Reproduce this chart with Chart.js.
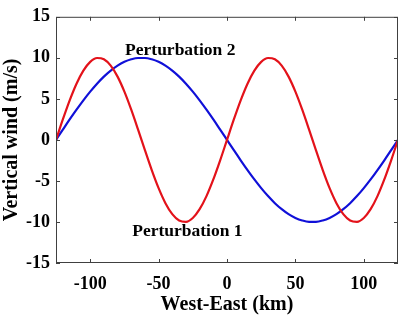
<!DOCTYPE html>
<html>
<head>
<meta charset="utf-8">
<script src="https://cdn.jsdelivr.net/npm/chart.js@4/dist/chart.umd.min.js"></script>
<style>
  body { margin: 0; background: #fff; }
  #wrap { width: 400px; height: 317px; }
</style>
</head>
<body>
<div id="wrap"><canvas id="grafico"></canvas></div>
<script>
// Posiciones oeste-este (km)
const distancias = [-125, -120, -115, -110, -105, -100, -95, -90, -85, -80, -75, -70, -65, -60, -55, -50, -45, -40, -35, -30, -25, -20, -15, -10, -5,
  0, 5, 10, 15, 20, 25, 30, 35, 40, 45, 50, 55, 60, 65, 70, 75, 80, 85, 90, 95, 100, 105, 110, 115, 120, 125];

// Perturbacion 1 (rojo)
const perturbacion1 = [0, 2.49, 4.82, 6.85, 8.44, 9.51, 9.98, 9.82, 9.05, 7.71, 5.88, 3.68, 1.25, -1.25, -3.68, -5.88, -7.71, -9.05, -9.82, -9.98, -9.51, -8.44, -6.85, -4.82, -2.49,
  0, 2.49, 4.82, 6.85, 8.44, 9.51, 9.98, 9.82, 9.05, 7.71, 5.88, 3.68, 1.25, -1.25, -3.68, -5.88, -7.71, -9.05, -9.82, -9.98, -9.51, -8.44, -6.85, -4.82, -2.49, 0];

// Perturbacion 2 (azul)
const perturbacion2 = [0, 1.25, 2.49, 3.68, 4.82, 5.88, 6.85, 7.71, 8.44, 9.05, 9.51, 9.82, 9.98, 9.98, 9.82, 9.51, 9.05, 8.44, 7.71, 6.85, 5.88, 4.82, 3.68, 2.49, 1.25,
  0, -1.25, -2.49, -3.68, -4.82, -5.88, -6.85, -7.71, -8.44, -9.05, -9.51, -9.82, -9.98, -9.98, -9.82, -9.51, -9.05, -8.44, -7.71, -6.85, -5.88, -4.82, -3.68, -2.49, -1.25, 0];

// Marcas de los ejes
const marcasX = [-100, -50, 0, 50, 100];
const marcasY = [-15, -10, -5, 0, 5, 10, 15];

// Etiquetas dentro del grafico
const etiquetas = ["Perturbation 2", "Perturbation 1"];
const etiquetasX = [-74.5, -69.3];
const etiquetasY = [10.9, -11.2];

const fuente = "'Liberation Serif', 'Times New Roman', serif";

// Caja con marcas hacia adentro y textos
const cajaPlugin = {
  id: "caja",
  afterDraw(chart) {
    const ctx = chart.ctx;
    const a = chart.chartArea;
    const sx = chart.scales.x;
    const sy = chart.scales.y;
    ctx.save();
    ctx.strokeStyle = "#404040";
    ctx.lineWidth = 1;
    ctx.strokeRect(a.left + 0.5, a.top + 0.5, a.right - a.left - 1, a.bottom - a.top - 1);
    ctx.beginPath();
    marcasX.forEach(v => {
      const px = Math.round(sx.getPixelForValue(v)) + 0.5;
      ctx.moveTo(px, a.bottom); ctx.lineTo(px, a.bottom - 4);
      ctx.moveTo(px, a.top); ctx.lineTo(px, a.top + 4);
    });
    marcasY.forEach(v => {
      const py = Math.round(sy.getPixelForValue(v)) + 0.5;
      ctx.moveTo(a.left, py); ctx.lineTo(a.left + 4, py);
      ctx.moveTo(a.right, py); ctx.lineTo(a.right - 4, py);
    });
    ctx.stroke();

    ctx.fillStyle = "#000";
    ctx.font = "bold 17.5px " + fuente;
    ctx.textAlign = "left";
    ctx.textBaseline = "middle";
    etiquetas.forEach((t, i) => {
      ctx.fillText(t, sx.getPixelForValue(etiquetasX[i]), sy.getPixelForValue(etiquetasY[i]));
    });
    ctx.restore();
  }
};

const ctx = document.getElementById("grafico").getContext("2d");
const chart = new Chart(ctx, {
  type: "line",
  data: {
    datasets: [{
      label: "Perturbation 1",
      data: distancias.map((x, i) => ({ x: x, y: perturbacion1[i] })),
      borderColor: "#e3121a",
      borderWidth: 2.2,
      pointRadius: 0,
      cubicInterpolationMode: "monotone",
      fill: false
    }, {
      label: "Perturbation 2",
      data: distancias.map((x, i) => ({ x: x, y: perturbacion2[i] })),
      borderColor: "#1010d8",
      borderWidth: 2.2,
      pointRadius: 0,
      cubicInterpolationMode: "monotone",
      fill: false
    }]
  },
  options: {
    responsive: true,
    maintainAspectRatio: false,
    animation: false,
    layout: { padding: { top: 8, right: 2, left: 0, bottom: 0 } },
    plugins: {
      legend: { display: false },
      tooltip: { enabled: false }
    },
    scales: {
      x: {
        type: "linear",
        min: -125,
        max: 125,
        afterBuildTicks: s => { s.ticks = marcasX.map(v => ({ value: v })); },
        afterFit: s => { s.height = 54; },
        grid: { display: false, drawTicks: false },
        border: { display: false },
        ticks: { color: "#000", padding: 11, font: { family: fuente, size: 18, weight: "bold" } },
        title: {
          display: true,
          text: "West-East (km)",
          color: "#000",
          padding: { top: 0, bottom: 0 },
          font: { family: fuente, size: 20, weight: "bold" }
        }
      },
      y: {
        min: -15,
        max: 15,
        afterBuildTicks: s => { s.ticks = marcasY.map(v => ({ value: v })); },
        afterFit: s => { s.width = 56; },
        grid: { display: false, drawTicks: false },
        border: { display: false },
        ticks: { color: "#000", padding: 6, font: { family: fuente, size: 18, weight: "bold" } },
        title: {
          display: true,
          text: "Vertical wind (m/s)",
          color: "#000",
          padding: { top: 0, bottom: 0 },
          font: { family: fuente, size: 20, weight: "bold" }
        }
      }
    }
  },
  plugins: [cajaPlugin]
});
</script>
</body>
</html>
